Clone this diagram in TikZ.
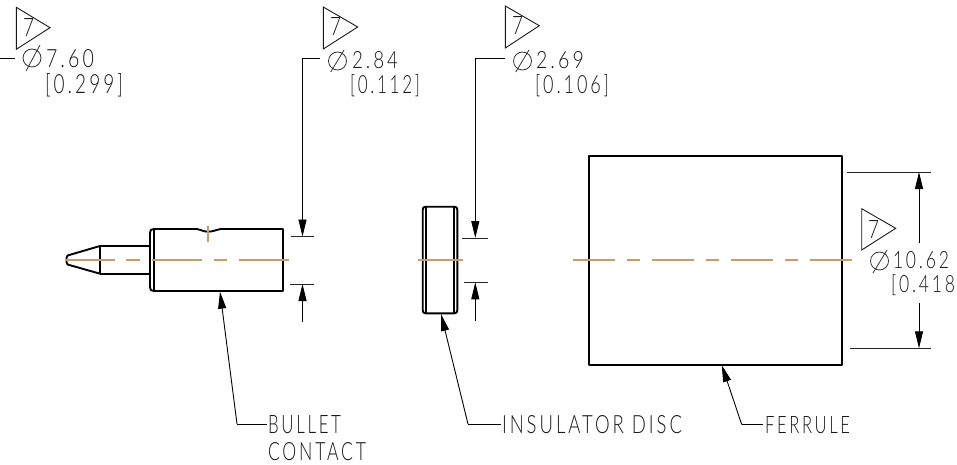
\documentclass[tikz,border=0pt]{standalone}
\usepackage{fontspec}
\usepackage{graphicx}
\usetikzlibrary{arrows.meta}
\newfontfamily\cadfont[LetterSpace=16]{Lato Light}
\newcommand{\cadtxt}[3]{\resizebox{#1pt}{#2pt}{\cadfont\fontsize{26}{26}\selectfont #3}}
\tikzset{
 part/.style={line width=1.9pt,black,line join=round},
 thinl/.style={line width=1pt,black!85},
 ctr/.style={line width=1.1pt,color={rgb,255:red,200;green,155;blue,110}},
 lead/.style={line width=0.9pt,black,-{Triangle[length=17pt,width=8pt]}},
 plainlead/.style={line width=0.9pt,black},
 tag/.style={line width=0.9pt,black!90,line join=miter},
 lbl/.style={inner sep=0pt,outer sep=0pt,anchor=south west,text=black!90},
 dia/.style={line width=0.8pt,black!80}
}
\begin{document}
\begin{tikzpicture}[x=1pt,y=-1pt]
\useasboundingbox (0,0) rectangle (957,465);
\clip (0,0) rectangle (957,465);
% contact
\draw[part] (100,246) -- (67.5,255.5) -- (66.5,258) -- (66.5,262) -- (67.5,264.5) -- (100,273.7) -- cycle;
\draw[part] (100,246) -- (150,246) (100,273.7) -- (150,273.7);
\draw[part] (154,229) -- (197,229) .. controls (201,229.5) and (203,231.7) .. (208,231.7) .. controls (213,231.7) and (217,229.5) .. (221,229) -- (283,229) -- (283,291) -- (154,291)
  .. controls (151,291) and (150,290) .. (150,287) -- (150,233) .. controls (150,230) and (151,229) .. (154,229) -- cycle;
\draw[line width=1.2pt] (154,229) -- (154,291);
% disc
\draw[part] (426,206.7) -- (454,206.7) .. controls (456.5,206.7) and (457.3,207.5) .. (457.3,210) -- (457.3,310) .. controls (457.3,312.5) and (456.5,313.3) .. (454,313.3) -- (426,313.3) .. controls (423.5,313.3) and (422.7,312.5) .. (422.7,310) -- (422.7,210) .. controls (422.7,207.5) and (423.5,206.7) .. (426,206.7) -- cycle;
\draw[line width=1.2pt] (426,206.7) -- (426,313.3) (454,206.7) -- (454,313.3);
% ferrule
\node[draw,part,inner sep=0pt,outer sep=0pt,minimum width=253pt,minimum height=209pt,anchor=center] (ferr) at (715.5,260.5) {};
% centre lines
\foreach \a/\b in {65/115,126/140,152/202,214/227,239/289,418/463,573/615,627/640,652/694,706/719,731/773,785/798,810/852}
  \draw[ctr] (\a,260) -- (\b,260);
\draw[ctr] (208,226) -- (208,242);
% extension lines
\draw[thinl] (291,236.5) -- (314,236.5) (290,284) -- (314,284);
\draw[thinl] (462,238) -- (488,238) (464,282.3) -- (488,282.3);
\draw[thinl] (847,172) -- (931,172) (850,348.3) -- (931,348.3);
% dimension arrows
\coordinate (d1a) at (302.5,58); \coordinate (d1b) at (302.5,236.5);
\coordinate (d1c) at (302.5,322); \coordinate (d1d) at (302.5,284);
\coordinate (d2a) at (475.3,58); \coordinate (d2b) at (475.3,238);
\coordinate (d2c) at (475.3,321); \coordinate (d2d) at (475.3,282.3);
\coordinate (d3a) at (919,243); \coordinate (d3b) at (919,172);
\coordinate (d3c) at (919,303); \coordinate (d3d) at (919,348.3);
\draw[lead] (d1a) -- (d1b); \draw[lead] (d1c) -- (d1d);
\draw[lead] (d2a) -- (d2b); \draw[lead] (d2c) -- (d2d);
\draw[lead] (d3a) -- (d3b); \draw[lead] (d3c) -- (d3d);
\draw[plainlead] (0,58) -- (15,58);
\draw[plainlead] (d1a) -- (320,58);
\draw[plainlead] (d2a) -- (505,58);
% tags
\draw[tag] (16.3,7.3) -- (16.3,49.3) -- (50,27.7) -- cycle;
\draw[tag] (323.3,7) -- (323.3,49) -- (357.7,27) -- cycle;
\draw[tag] (505.3,6) -- (505.3,48) -- (539.3,25.7) -- cycle;
\draw[tag] (861.7,208.7) -- (861.7,250) -- (895.7,228.3) -- cycle;
\node[lbl] (t1) at (23,36.5) {\cadtxt{11}{18}{7}};
\node[lbl] (t2) at (330,36) {\cadtxt{11}{18}{7}};
\node[lbl] (t3) at (512,35) {\cadtxt{11}{18}{7}};
\node[lbl] (t4) at (868,238) {\cadtxt{11}{18}{7}};
% diameter symbols
\draw[dia] (32,58) circle (9pt) (40,45) -- (26,71);
\draw[dia] (337.5,61) circle (9pt) (344,50) -- (330.7,72);
\draw[dia] (522.5,61) circle (9pt) (529,50) -- (515.7,72);
\draw[dia] (879.5,261) circle (9pt) (887,250) -- (873,273);
% values
\node[lbl] (v1) at (46,68) {\cadtxt{48}{18}{7.60}};
\node[lbl] (v2) at (352,69) {\cadtxt{46}{17}{2.84}};
\node[lbl] (v3) at (536,69) {\cadtxt{48}{17}{2.69}};
\node[lbl] (v4) at (893,269) {\cadtxt{56}{17}{10.62}};
\node[lbl,anchor=west] (i1) at (45,85) {\cadtxt{78}{20}{[0.299]}};
\node[lbl,anchor=west] (i2) at (350,86) {\cadtxt{70}{19}{[0.112]}};
\node[lbl,anchor=west] (i3) at (535,86) {\cadtxt{74}{19}{[0.106]}};
\node[lbl,anchor=west] (i4) at (891,285.5) {\cadtxt{64}{18}{[0.418}};
% labels
\node[lbl] (bul) at (268,434) {\cadtxt{73}{18}{BULLET}};
\node[lbl] (con) at (268,461) {\cadtxt{98}{18}{CONTACT}};
\node[lbl] (ins) at (502,434) {\cadtxt{180}{18}{INSULATOR DISC}};
\node[lbl] (fer) at (765,434) {\cadtxt{85}{17}{FERRULE}};
% leaders
\coordinate (c1) at (237,424); \coordinate (c2) at (468,424); \coordinate (c3) at (741.7,424.5);
\coordinate (p1) at (220,291.7); \coordinate (p2) at (441,314); \coordinate (p3) at (721.7,365);
\draw[lead] (c1) -- (p1); \draw[lead] (c2) -- (p2); \draw[lead] (c3) -- (p3);
\draw[plainlead] (c1) -- (267,424);
\draw[plainlead] (c2) -- (501,424);
\draw[plainlead] (c3) -- (763,424.5);
\end{tikzpicture}
\end{document}
